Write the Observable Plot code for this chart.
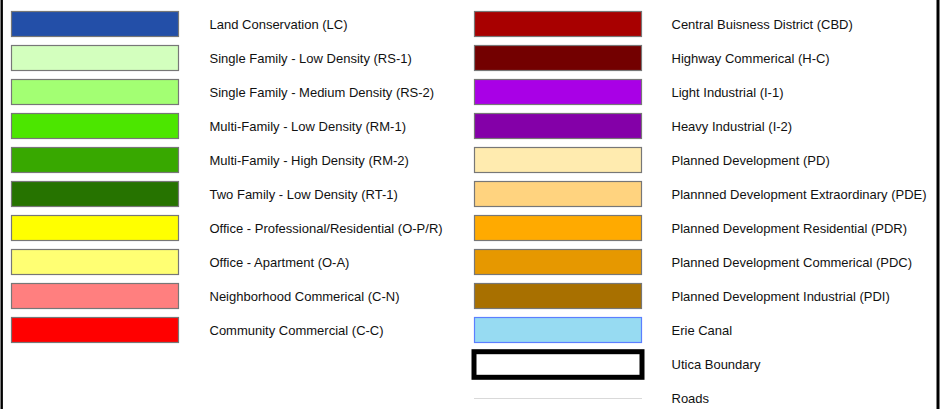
<!DOCTYPE html>
<html>
<head>
<meta charset="utf-8">
<script src="https://cdn.jsdelivr.net/npm/d3@7"></script>
<script src="https://cdn.jsdelivr.net/npm/@observablehq/plot@0.6"></script>
<style>
  html, body { margin: 0; padding: 0; background: #fff; }
  #chart svg { display: block; }
</style>
</head>
<body>
<div id="chart"></div>
<script>
const leftLabels = [
  "Land Conservation (LC)",
  "Single Family - Low Density (RS-1)",
  "Single Family - Medium Density (RS-2)",
  "Multi-Family - Low Density (RM-1)",
  "Multi-Family - High Density (RM-2)",
  "Two Family - Low Density (RT-1)",
  "Office - Professional/Residential (O-P/R)",
  "Office - Apartment (O-A)",
  "Neighborhood Commerical (C-N)",
  "Community Commercial (C-C)"
];
const leftColors = [
  "#234fa8", "#d3ffbe", "#a3ff73", "#4ce600", "#38a800",
  "#267300", "#ffff00", "#ffff73", "#ff7f7f", "#ff0000"
];
const rightLabels = [
  "Central Buisness District (CBD)",
  "Highway Commerical (H-C)",
  "Light Industrial (I-1)",
  "Heavy Industrial (I-2)",
  "Planned Development (PD)",
  "Plannned Development Extraordinary (PDE)",
  "Planned Development Residential (PDR)",
  "Planned Development Commerical (PDC)",
  "Planned Development Industrial (PDI)",
  "Erie Canal"
];
const rightColors = [
  "#a80000", "#730000", "#a900e6", "#8400a8", "#ffebaf",
  "#ffd37f", "#ffaa00", "#e69800", "#a87000", "#97dbf2"
];
const rightStrokes = [
  "#777", "#777", "#777", "#777", "#777",
  "#777", "#777", "#777", "#777", "#5b7fff"
];
const lineLabels = ["Utica Boundary", "Roads"];

// layout (style) constants
const colSwatchX = [11, 474];
const colTextX = [209, 671];
const swatchW = 168;
const rows = d3.range(12);

const swatches = [
  ...leftLabels.map((label, i) => ({col: 0, row: i, label, fill: leftColors[i], stroke: "#777"})),
  ...rightLabels.map((label, i) => ({col: 1, row: i, label, fill: rightColors[i], stroke: rightStrokes[i]}))
];
const texts = [
  ...swatches,
  ...lineLabels.map((label, i) => ({col: 1, row: 10 + i, label}))
];
const boundary = [{col: 1, row: 10}];
const roads = [{col: 1, row: 11}];

const chart = Plot.plot({
  width: 944,
  height: 409,
  margin: 0,
  x: {type: "linear", domain: [0, 944], range: [0, 944], axis: null},
  y: {type: "band", domain: rows, range: [4.3, 4.3 + 12 * 34.4], padding: 0, axis: null},
  style: {fontFamily: "'Liberation Sans', Arial, sans-serif", background: "#fff"},
  marks: [
    Plot.barX(swatches, {
      x1: d => colSwatchX[d.col] + 0.5,
      x2: d => colSwatchX[d.col] + swatchW - 0.5,
      y: "row",
      fill: d => d.fill,
      stroke: d => d.stroke,
      strokeWidth: 1.2,
      insetTop: 4.5,
      insetBottom: 4.5
    }),
    Plot.barX(boundary, {
      x1: d => colSwatchX[d.col],
      x2: d => colSwatchX[d.col] + swatchW,
      y: "row",
      fill: "#fff",
      stroke: "#000",
      strokeWidth: 5,
      insetTop: 4.7,
      insetBottom: 3.7
    }),
    Plot.ruleY(roads, {
      x1: d => colSwatchX[d.col],
      x2: d => colSwatchX[d.col] + swatchW,
      y: "row",
      stroke: "#d9d9d9",
      strokeWidth: 1
    }),
    Plot.text(texts, {
      x: d => colTextX[d.col],
      y: "row",
      text: "label",
      textAnchor: "start",
      fontSize: 13,
      fill: "#111"
    }),
    Plot.ruleX([1.2], {stroke: "#000", strokeWidth: 2.4}),
    Plot.ruleX([937.5], {stroke: "#000", strokeWidth: 3})
  ]
});
document.getElementById("chart").append(chart);
</script>
</body>
</html>
